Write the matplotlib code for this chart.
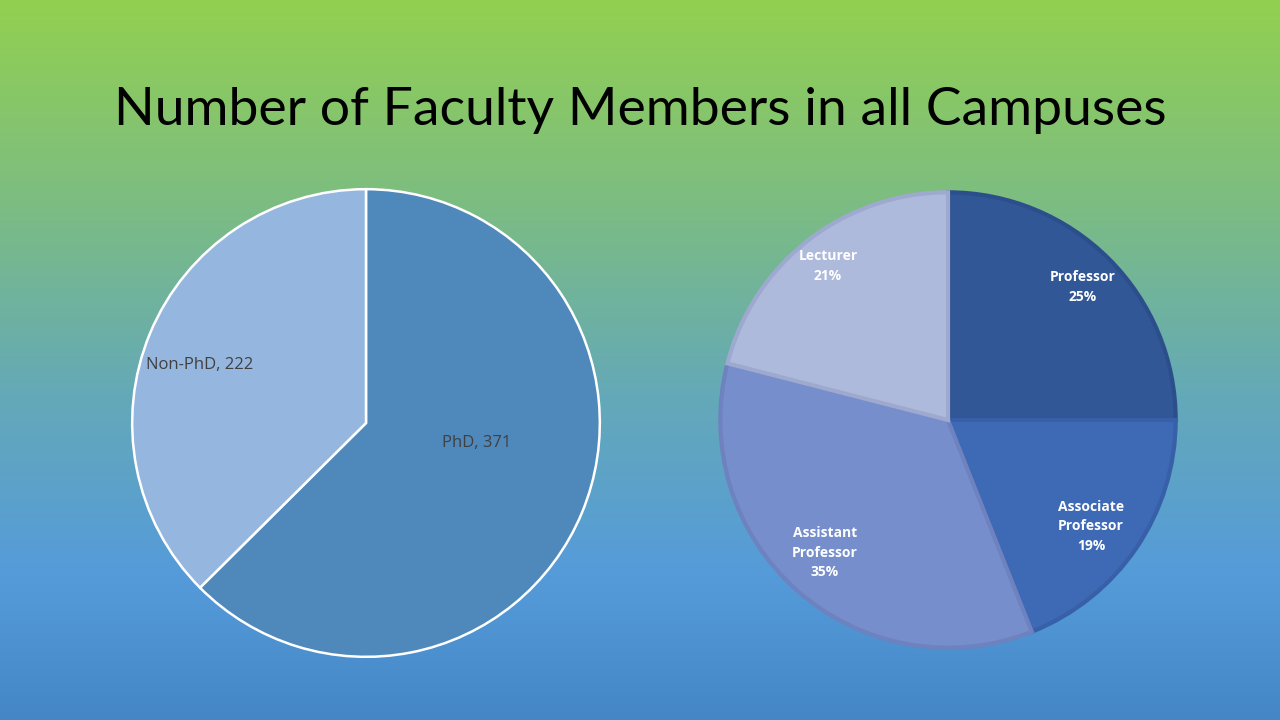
import numpy as np
import matplotlib.pyplot as plt
from matplotlib.colors import LinearSegmentedColormap

# data
degree_labels = ["PhD", "Non-PhD"]
degree_counts = [371, 222]
degree_colors = ["#4f88bb", "#95b6de"]

rank_labels = ["Professor", "Associate\nProfessor", "Assistant\nProfessor", "Lecturer"]
rank_pct = [25, 19, 35, 21]
rank_colors = ["#315797", "#3d69b5", "#778ecc", "#aebadc"]
rank_edges = ["#2c4f8c", "#3760a9", "#6d82bf", "#9ea9cf"]

title = "Number of Faculty Members in all Campuses"

W, H = 1280, 720
fig = plt.figure(figsize=(W / 100, H / 100), dpi=100)

# background gradient
bg = fig.add_axes([0, 0, 1, 1])
grad = LinearSegmentedColormap.from_list(
    "bg", [(0.0, "#92d050"), (0.25, "#7fbf7c"), (0.55, "#64a9b8"),
           (0.8, "#559bda"), (1.0, "#4587c6")])
bg.imshow(np.linspace(0, 1, 256).reshape(-1, 1), aspect="auto", cmap=grad,
          extent=[0, 1, 0, 1])
bg.set_axis_off()

fig.text(0.5, 1 - 110 / H, title, ha="center", va="center",
         fontsize=38.5, family="Lato", color="black")


def pie_axes(cx, cy, r):
    return fig.add_axes([(cx - r) / W, (H - cy - r) / H, 2 * r / W, 2 * r / H])


def fix_limits(ax):
    ax.set_xlim(-1, 1)
    ax.set_ylim(-1, 1)
    ax.set_aspect("equal")
    ax.set_axis_off()


# left pie
ax1 = pie_axes(366, 423, 235)
ax1.pie(degree_counts, colors=degree_colors, startangle=90, counterclock=False,
        radius=0.995, wedgeprops=dict(edgecolor="white", linewidth=1.8))
fix_limits(ax1)
left_pos = [(0.47, -0.085), (-0.71, 0.245)]
for lab, val, (x, y) in zip(degree_labels, degree_counts, left_pos):
    ax1.text(x, y, f"{lab}, {val}", ha="center", va="center",
             fontsize=12, family="Open Sans", color="#404040")

# right pie
ax2 = pie_axes(948, 420, 230)
wedges, _ = ax2.pie(rank_pct, colors=rank_colors, startangle=90,
                    counterclock=False, radius=0.99,
                    wedgeprops=dict(linewidth=3))
fix_limits(ax2)
for w, ec in zip(wedges, rank_edges):
    w.set_edgecolor(ec)
right_pos = [(0.587, 0.578), (0.622, -0.461), (-0.535, -0.578), (-0.522, 0.67)]
for lab, val, (x, y) in zip(rank_labels, rank_pct, right_pos):
    ax2.text(x, y, f"{lab}\n{val}%", ha="center", va="center",
             fontsize=10, family="Open Sans", fontweight="bold",
             color="white", linespacing=1.5)

fig.savefig("out.png", dpi=100)
